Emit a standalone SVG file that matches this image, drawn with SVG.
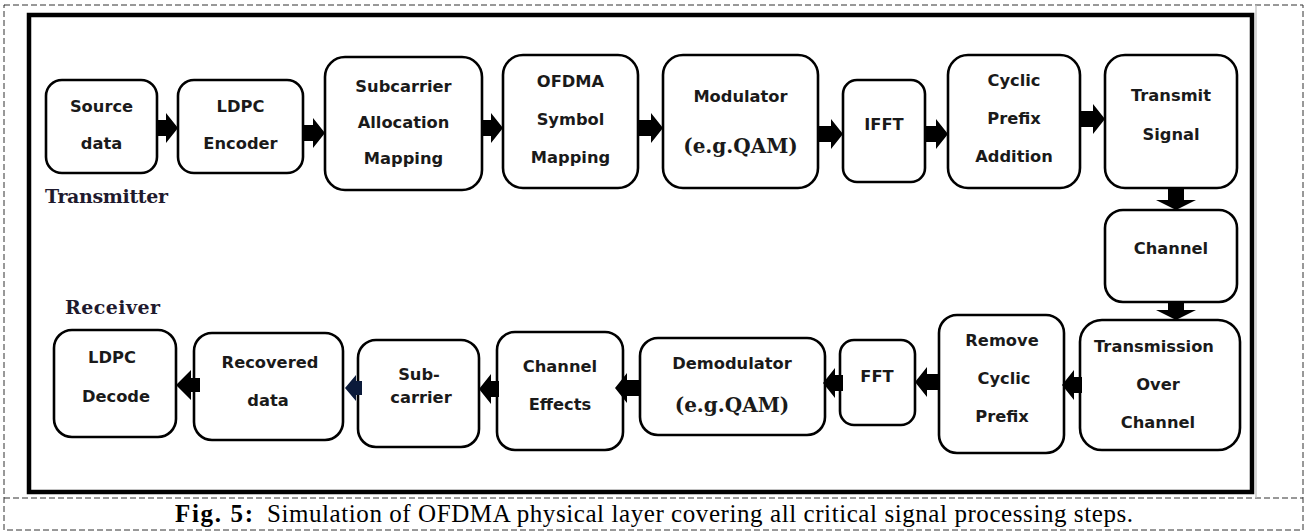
<svg xmlns="http://www.w3.org/2000/svg" width="1306" height="532" viewBox="0 0 1306 532">
<style>
.frame-dash{fill:none;stroke:#333;stroke-width:1;stroke-dasharray:6,3}
.node rect{fill:#fff;stroke:#000;stroke-width:2.6}
.t{font-family:"DejaVu Sans",sans-serif;font-weight:bold;font-size:16.3px;fill:#1a1a1a;text-anchor:middle}
.s{font-family:"DejaVu Serif",serif;font-weight:bold;font-size:20px;fill:#1a1a1a;text-anchor:middle}
.lab{font-family:"DejaVu Serif",serif;font-weight:bold;font-size:19px;fill:#1f1a2e}
.cap{font-family:"Liberation Serif","Times New Roman",serif;font-size:25px;fill:#000}
.arr polygon{fill:#000}
</style>
<rect width="1306" height="532" fill="#fff"/>
<!-- outer dashed frame -->
<rect class="frame-dash" x="4" y="5" width="1299" height="525"/>
<line class="frame-dash" x1="4" y1="498" x2="1303" y2="498"/>
<line x1="1256" y1="5" x2="1256" y2="498" stroke="#bbb" stroke-width="1.2"/>
<!-- thick frame -->
<rect x="29" y="15" width="1223" height="477" fill="none" stroke="#000" stroke-width="4.5"/>

<text class="lab" x="45" y="203" textLength="123">Transmitter</text>
<text class="lab" x="65" y="314" textLength="95">Receiver</text>

<g id="n-src" class="node"><rect x="46" y="80" width="111" height="93" rx="16"/><text class="t" x="101.5" y="112">Source</text><text class="t" x="101.5" y="149">data</text></g>
<g id="n-enc" class="node"><rect x="178" y="80" width="125" height="93" rx="16"/><text class="t" x="240.5" y="112">LDPC</text><text class="t" x="240.5" y="149">Encoder</text></g>
<g id="n-sub" class="node"><rect x="325" y="57" width="157" height="133" rx="20"/><text class="t" x="403.5" y="92">Subcarrier</text><text class="t" x="403.5" y="128">Allocation</text><text class="t" x="403.5" y="164">Mapping</text></g>
<g id="n-ofdma" class="node"><rect x="503" y="55" width="135" height="133" rx="20"/><text class="t" x="570.5" y="87">OFDMA</text><text class="t" x="570.5" y="125">Symbol</text><text class="t" x="570.5" y="163">Mapping</text></g>
<g id="n-mod" class="node"><rect x="663" y="55" width="155" height="133" rx="20"/><text class="t" x="740.5" y="102">Modulator</text><text class="s" x="740.5" y="153">(e.g.QAM)</text></g>
<g id="n-ifft" class="node"><rect x="843" y="80" width="82" height="102" rx="14"/><text class="t" x="884" y="130">IFFT</text></g>
<g id="n-cp" class="node"><rect x="948" y="55" width="132" height="133" rx="20"/><text class="t" x="1014" y="86">Cyclic</text><text class="t" x="1014" y="124">Prefix</text><text class="t" x="1014" y="162">Addition</text></g>
<g id="n-tx" class="node"><rect x="1105" y="55" width="132" height="133" rx="20"/><text class="t" x="1171" y="101">Transmit</text><text class="t" x="1171" y="140">Signal</text></g>
<g id="n-ch" class="node"><rect x="1105" y="210" width="132" height="92" rx="18"/><text class="t" x="1171" y="254">Channel</text></g>
<g id="n-toc" class="node"><rect x="1080" y="320" width="160" height="130" rx="22"/><text class="t" x="1154" y="352">Transmission</text><text class="t" x="1158" y="390">Over</text><text class="t" x="1158" y="428">Channel</text></g>
<g id="n-rcp" class="node"><rect x="939" y="315" width="125" height="138" rx="18"/><text class="t" x="1002" y="346">Remove</text><text class="t" x="1004" y="384">Cyclic</text><text class="t" x="1002" y="422">Prefix</text></g>
<g id="n-fft" class="node"><rect x="840" y="340" width="75" height="85" rx="14"/><text class="t" x="877" y="382">FFT</text></g>
<g id="n-demod" class="node"><rect x="640" y="338" width="185" height="97" rx="18"/><text class="t" x="732" y="369">Demodulator</text><text class="s" x="732" y="412">(e.g.QAM)</text></g>
<g id="n-che" class="node"><rect x="497" y="332" width="126" height="118" rx="18"/><text class="t" x="560" y="372">Channel</text><text class="t" x="560" y="410">Effects</text></g>
<g id="n-sc" class="node"><rect x="358" y="340" width="121" height="107" rx="18"/><text class="t" x="419" y="380">Sub-</text><text class="t" x="421" y="403">carrier</text></g>
<g id="n-rec" class="node"><rect x="194" y="333" width="149" height="107" rx="18"/><text class="t" x="270" y="368">Recovered</text><text class="t" x="268" y="406">data</text></g>
<g id="n-dec" class="node"><rect x="54" y="330" width="122" height="107" rx="18"/><text class="t" x="112" y="363">LDPC</text><text class="t" x="116" y="402">Decode</text></g>

<g id="connectors" class="arr">
<polygon points="157,120 166,120 166,113 178,128 166,143 166,136 157,136"/>
<polygon points="303,125 313,125 313,118 325,133 313,148 313,141 303,141"/>
<polygon points="482,120 491,120 491,113 503,128 491,143 491,136 482,136"/>
<polygon points="638,120 651,120 651,113 663,128 651,143 651,136 638,136"/>
<polygon points="818,126 831,126 831,119 843,134 831,149 831,142 818,142"/>
<polygon points="925,126 936,126 936,119 948,134 936,149 936,142 925,142"/>
<polygon points="1080,111 1093,111 1093,104 1105,119 1093,134 1093,127 1080,127"/>
<polygon points="1168,188 1184,188 1184,200 1196,200 1176,210 1156,200 1168,200"/>
<polygon points="1168,302 1184,302 1184,310 1196,310 1176,320 1156,310 1168,310"/>
<polygon points="1082,377 1074,377 1074,370 1062,385 1074,400 1074,393 1082,393"/>
<polygon points="939,374 927,374 927,367 915,382 927,397 927,390 939,390"/>
<polygon points="843,375 835,375 835,368 823,383 835,398 835,391 843,391"/>
<polygon points="641,380 627,380 627,373 615,388 627,403 627,396 641,396"/>
<polygon points="499,381 491,381 491,374 479,389 491,404 491,397 499,397"/>
<polygon points="362,381 356,381 356,375 345,388 356,401 356,395 362,395" style="fill:#0b1a3a"/>
<polygon points="200,378 191,378 191,370 176,385 191,400 191,392 200,392"/>
</g>

<text class="cap" y="522"><tspan x="175" font-weight="bold" textLength="78">Fig. 5:</tspan><tspan x="267" textLength="866">Simulation of OFDMA physical layer covering all critical signal processing steps.</tspan></text>
</svg>
